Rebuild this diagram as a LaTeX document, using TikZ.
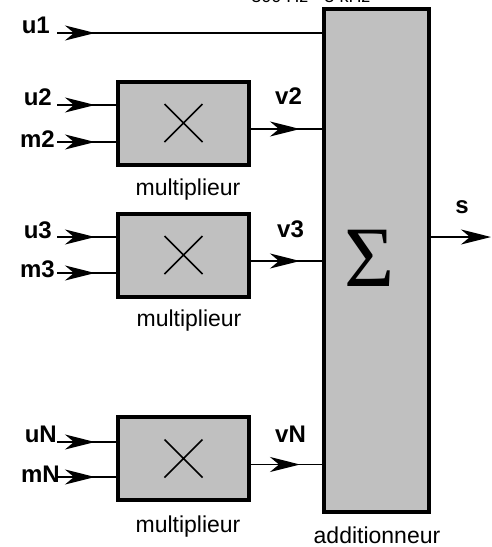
\documentclass[tikz,border=0pt]{standalone}
\usepackage{fontspec}
\setmainfont{Liberation Sans}
\newfontfamily\sigmafont{Liberation Serif}
\usetikzlibrary{arrows.meta, positioning}
\definecolor{BoxGray}{RGB}{192,192,192}

\begin{document}
\begin{tikzpicture}[x=1pt, y=-1pt,
  block/.style={draw, line width=4pt, fill=BoxGray, inner sep=0pt, minimum width=131pt, minimum height=83pt},
  wire/.style={line width=1.5pt},
  sig/.style={wire, -{Stealth[length=30pt, width=15pt, inset=9pt]}},
  lbl/.style={font=\fontsize{24}{28}\selectfont\bfseries, inner sep=0pt},
  captxt/.style={font=\fontsize{23}{28}\selectfont, inner sep=0pt}]
\useasboundingbox (0,0) rectangle (491,547);
\clip (0,0) rectangle (491,547);
% Summer
\node[block, minimum width=104.7pt, minimum height=503pt] (sum) at (376.3,260.5) {};
\node[font=\sigmafont\fontsize{86}{90}\selectfont, inner sep=0pt] (sigma) at (370,258) {Σ};
\node[captxt, anchor=base] (band) at (311,2) {\fontsize{18}{20}\selectfont 300 Hz - 3 kHz};
\node[captxt, anchor=base] (csum) at (377,543) {additionneur};
% Multipliers
\node[block] (mul2) at (183.5,123) {};
\node[block] (mul3) at (183.5,255) {};
\node[block] (mulN) at (183.5,458.5) {};
\foreach \m in {mul2,mul3,mulN}
  \draw[wire] ([shift={(-19,-19)}]\m.center) -- ([shift={(19,19)}]\m.center)
              ([shift={(-19,19)}]\m.center) -- ([shift={(19,-19)}]\m.center);
\node[captxt, anchor=base] (c2) at (188,195) {multiplieur};
\node[captxt, anchor=base] (c3) at (189,326) {multiplieur};
\node[captxt, anchor=base] (cN) at (188,532) {multiplieur};
% Input labels
\node[lbl, anchor=base east] (u1) at (50,33) {u1};
\node[lbl, anchor=base east] (u2) at (52,105) {u2};
\node[lbl, anchor=base east] (m2) at (55,147) {m2};
\node[lbl, anchor=base east] (u3) at (52,238) {u3};
\node[lbl, anchor=base east] (m3) at (55,277) {m3};
\node[lbl, anchor=base east] (uN) at (57,442) {uN};
\node[lbl, anchor=base east] (mN) at (60,482) {mN};
% Input wires
\coordinate (a1) at (57,33);
\coordinate (a2) at (57,105);  \coordinate (b2) at (57,142);
\coordinate (a3) at (57,237);  \coordinate (b3) at (57,273);
\coordinate (aN) at (57,442);  \coordinate (bN) at (57,477);
\draw[wire] (a1) -- (sum.west |- a1);
\draw[sig] (a1) -- ++(38,0);
\foreach \k in {2,3,N} {
  \draw[wire] (a\k) -- (mul\k.west |- a\k) (b\k) -- (mul\k.west |- b\k);
  \draw[sig] (a\k) -- ++(38,0);
  \draw[sig] (b\k) -- ++(38,0);
}
% Outputs of multipliers
\foreach \k in {2,3,N} {
  \coordinate (o\k) at ([shift={(0,6)}]mul\k.east);
  \draw[wire] (o\k) -- (sum.west |- o\k);
  \draw[sig] (o\k) -- ++(49,0);
}
\node[lbl, anchor=base west] (v2) at (275,104) {v2};
\node[lbl, anchor=base west] (v3) at (277,237) {v3};
\node[lbl, anchor=base west] (vN) at (275,442) {vN};
% Output
\coordinate (so) at (491,237);
\draw[sig] (sum.east |- so) -- (so);
\node[lbl, anchor=base] (s) at (462,213) {s};
\end{tikzpicture}
\end{document}
